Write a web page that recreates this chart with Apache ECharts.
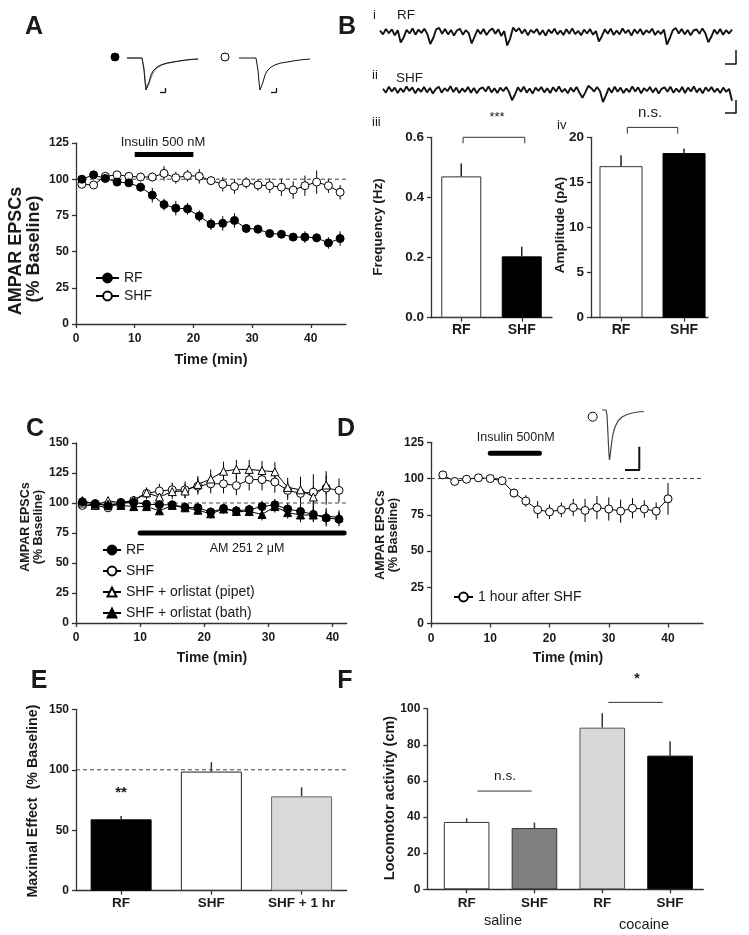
<!DOCTYPE html>
<html><head><meta charset="utf-8">
<script src="https://cdn.jsdelivr.net/npm/echarts@6/dist/echarts.min.js"></script>
<style>html,body{margin:0;padding:0;background:#fff}#c{width:749px;height:935px}</style>
</head><body><div id="c"></div>
<script>
// ---------- Panel A ----------
const aTime = [1,3,5,7,9,11,13,15,17,19,21,23,25,27,29,31,33,35,37,39,41,43,45];
const aRF = [100,103,100.5,98,97.5,94.5,89,82.5,80,79.5,74.5,69,69.5,71.5,66,65.5,62.5,62,60,60,59.5,56,59];
const aRFErr = [2,2,2,2,2,3,5,4,5,4,4,4,5,5,3,3,2,2,2,4,3,4,5];
const aSHF = [96.5,96,102,103,102,101.5,101.5,104,101,102.5,102,99,96.5,95,97.5,96,95.5,94.5,92.5,95.5,98,95.5,91];
const aSHFErr = [2,2,2,2,2,3,3,5,4,4,5,3,5,5,4,4,5,6,6,7,8,5,5];
const aInsulin = [10,20];
const aTicksX = [0,10,20,30,40];
// EPSC example traces (time in sample units, current in arbitrary units)
const trRF1 = [[0,0],[15,0],[16,-2],[17,-12],[18,-24],[19,-32],[20,-34],[21,-30],[22,-24],[24,-17],[26,-13],[30,-9],[35,-6.5],[40,-5],[46,-4],[55,-2.5],[63,-1.5],[71,-1]];
const trRF2 = [[0,0],[15,0],[16,-2],[17,-10],[18,-20],[19,-27],[20,-30],[21,-29],[22,-26],[24,-20],[26,-15],[30,-10],[35,-7],[40,-5.5],[46,-4.2],[55,-2.7],[63,-1.7],[71,-1]];
const trSHF = [[0,0],[17,0],[18,-2],[19,-12],[20,-24],[21,-32],[22,-34],[23,-30],[24,-24],[26,-17],[28,-13],[32,-9],[37,-6.5],[42,-5],[48,-4],[57,-2.5],[65,-1.5],[71,-1]];

// ---------- Panel B ----------
const bCats = ['RF','SHF'];
const bFreq = [0.47,0.204];
const bFreqErr = [0.043,0.032];
const bAmp = [16.8,18.25];
const bAmpErr = [1.2,0.5];
const bFreqTicks = [0,0.2,0.4,0.6];
const sweepRF = [0.5,-0.8,1.0,-0.4,0.9,-1.1,0.6,-3.5,-1.8,0.7,-0.5,1.2,-0.9,0.8,-0.3,1.1,-0.7,-4.0,-2.0,0.9,
 1.4,-0.6,1.0,-0.8,0.7,-1.2,0.5,1.1,-0.9,0.6,-0.4,-3.8,-1.5,0.8,-0.7,1.0,-1.0,0.4,1.2,-0.6,
 0.9,-1.3,0.3,-4.5,-2.2,1.5,0.2,1.3,-0.5,0.9,-1.1,0.7,-0.3,1.0,-0.9,0.6,-1.2,0.8,-0.4,1.1,
 -0.8,0.5,-1.0,0.9,-0.6,1.2,-0.7,0.4,-1.1,0.8,-0.5,1.0,-0.9,0.3,-3.2,-1.4,0.9,-0.6,1.1,-1.0,
 0.5,-0.8,1.2,-0.4,0.7,-1.2,0.9,-0.5,1.0,-0.9,0.6,-0.3,1.1,-1.0,0.4,-0.7,0.8,-4.2,-2.0,0.6,
 1.3,-0.5,1.0,-0.8,0.7,-1.1,0.5,0.9,-0.6,1.2,-0.4,-3.4,-1.6,0.8,-0.7,1.0,-0.9,0.6,-0.5,0.8];
const sweepSHF = [0.4,-0.9,1.1,-0.5,0.8,-1.0,0.6,-0.7,1.2,-0.3,0.9,-1.1,0.5,-0.6,1.0,-0.8,0.7,-1.2,0.3,1.1,
 -0.9,0.6,-0.4,1.3,-0.7,0.8,-1.0,0.5,-0.6,1.0,-0.9,0.7,-1.1,0.4,0.9,-0.5,1.2,-0.8,0.6,-1.0,
 0.8,-0.4,1.0,-0.7,-3.4,-1.5,0.9,-0.6,1.1,-0.9,0.5,-1.2,0.8,-0.3,1.0,-0.8,0.6,-1.0,0.9,-0.5,
 1.2,-0.7,0.4,-1.1,0.8,-0.6,1.0,-0.9,-2.6,-0.8,1.4,0.6,-0.5,1.0,-0.4,-4.0,-1.8,0.7,-0.9,1.1,
 -0.6,0.8,-1.0,0.5,-0.7,1.2,-0.5,0.9,-1.1,0.6,-0.4,1.0,-0.8,0.7,-1.2,0.4,0.9,-0.6,1.1,-0.9,
 0.5,-0.7,1.0,-1.0,0.8,-0.5,1.2,-0.8,0.6,-1.1,0.9,-0.4,1.0,-0.7,0.5,-1.0,0.8,-0.6,0.4,-3.6];

// ---------- Panel C ----------
const cTime = [1,3,5,7,9,11,13,15,17,19,21,23,25,27,29,31,33,35,37,39,41];
const cRF = [101,99.5,97.5,100.5,100.5,99,98.5,98.5,96.5,96,92.5,95.5,93.5,94.5,97,98.5,95,93,90.5,87.5,86.5];
const cRFErr = [3,2,2,2,2,3,3,4,4,4,4,4,4,4,5,5,5,5,6,7,6];
const cSHF = [98,98,96,100,102,108,110,111,111,114,116,116,114.5,119.5,119.5,117.5,110.5,108,109,112.5,110.5];
const cSHFErr = [2,2,3,3,3,5,6,6,7,7,8,8,8,9,9,9,8,14,15,14,10];
const cPipet = [100,98,102,100,102.5,108.5,105,109.5,110,115.5,120,126.5,128,128,127,126,113,111,105,115,null];
const cPipetErr = [2,2,3,2,3,4,5,6,6,7,8,8,8,8,8,8,8,10,9,8,0];
const cBath = [102,99,99,98,97,97,93.5,98,96,94,91,95,93,93,90.5,97,92,90,90,89,88];
const cBathErr = [2,2,2,2,2,2,3,3,3,4,4,4,4,4,5,5,5,6,6,7,6];
const cAM251 = [10,41.8];

// ---------- Panel D ----------
const dTime = [2,4,6,8,10,12,14,16,18,20,22,24,26,28,30,32,34,36,38,40];
const dVal = [102.5,98,99.5,100.5,100,98.5,90,84.5,78.5,77,78.5,80,78,80,79,77.5,79.5,79,77.5,86];
const dErr = [1,1.5,1,1,1,1.5,3,4,6,5,5,6,8,8,8,8,7,6,6,11];
const dInsulin = [10,18.3];
const trD = [[0,0],[4,0],[5,-5],[6,-25],[7,-45],[7.5,-50],[8,-47],[9,-38],[10,-30],[11,-24],[13,-17],[16,-11],[20,-7],[25,-4.5],[30,-3],[36,-2],[42,-1.5]];

// ---------- Panel E ----------
const eCats = ['RF','SHF','SHF + 1 hr'];
const eVal = [59,98.5,78];
const eErr = [2.7,7.8,7.5];

// ---------- Panel F ----------
const fCats = ['RF','SHF','RF','SHF'];
const fVal = [37.3,33.9,89.5,74];
const fErr = [2,3,8,8];
const fSig = [[[0.16,54.4],[0.96,54.4]], [[2.09,103.5],[2.89,103.5]]];

// ---------- styles ----------
const FONT = '"Liberation Sans", Arial, Helvetica, sans-serif';
const INK = '#1a1a1a';
const AX = '#333';
const eColors = [{color:'#000',borderColor:'#000'},{color:'#fff',borderColor:'#222'},{color:'#d9d9d9',borderColor:'#666'}];
const fColors = [{color:'#fff',borderColor:'#333'},{color:'#7f7f7f',borderColor:'#333'},{color:'#d8d8d8',borderColor:'#555'},{color:'#000',borderColor:'#000'}];
const bColors = [{color:'#fff',borderColor:'#333'},{color:'#000',borderColor:'#000'}];

const pairs = (xs, ys) => xs.map((x,i)=>[x,ys[i]]).filter(p=>p[1]!=null);
const triples = (xs, ys, es) => xs.map((x,i)=>[x,ys[i],es[i]]).filter(p=>p[1]!=null);
const idx = ys => ys.map((v,i)=>[i,v]);

const grids = [
  {left:76, top:143, width:270, height:181},
  {left:431, top:137.3, width:121, height:180.4},
  {left:591, top:137.3, width:117, height:180.4},
  {left:76, top:443, width:270.7, height:180},
  {left:431, top:442.3, width:272, height:181.2},
  {left:76, top:709.3, width:270.7, height:181.4},
  {left:427.3, top:708.7, width:276, height:180.6},
  {left:127, top:54, width:71, height:38},
  {left:239, top:54, width:71, height:38},
  {left:380, top:24.5, width:352, height:30},
  {left:383, top:82.5, width:349, height:30},
  {left:602, top:406, width:42, height:56}
];

function axisBase(size, margin){
  return {
    axisLine:{show:true, onZero:false, lineStyle:{color:AX, width:1.3}},
    axisTick:{show:true, length:4, lineStyle:{color:AX, width:1.3}},
    splitLine:{show:false},
    axisLabel:{color:INK, fontFamily:FONT, fontWeight:'bold', fontSize:size, margin:margin}
  };
}
function xVal(gi, min, max, ticks, size, margin, cats){
  const a = axisBase(size, margin);
  a.axisTick.customValues = ticks;
  a.axisLabel.customValues = ticks;
  if (cats) a.axisLabel.formatter = v => cats[Math.round(v)];
  return Object.assign({type:'value', gridIndex:gi, min, max}, a);
}
function yVal(gi, min, max, interval, size, custom, fmt){
  const a = axisBase(size, 7);
  const o = Object.assign({type:'value', gridIndex:gi, min, max}, a);
  if (custom){ a.axisTick.customValues = custom; a.axisLabel.customValues = custom; }
  else o.interval = interval;
  if (fmt) a.axisLabel.formatter = fmt;
  return o;
}
function hidden(gi, min, max){ return {type:'value', gridIndex:gi, min, max, show:false}; }

const xAxis = [
  xVal(0,0,46,aTicksX,12,9),
  xVal(1,-0.5,1.5,[0,1],14,5,bCats),
  xVal(2,-0.476,1.38,[0,1],14,5,bCats),
  xVal(3,0,42.2,aTicksX,12,9),
  xVal(4,0,45.9,aTicksX,12,9),
  xVal(5,-0.5,2.5,[0,1,2],13.5,6,eCats),
  xVal(6,-0.58,3.49,[0,1,2,3],13.5,7,fCats),
  hidden(7,0,71), hidden(8,0,71), hidden(9,0,119), hidden(10,0,119), hidden(11,0,42)
];
const yAxis = [
  yVal(0,0,125,25,12),
  yVal(1,0,0.6,0.2,13.5,bFreqTicks,v=>v.toFixed(1)),
  yVal(2,0,20,5,13.5),
  yVal(3,0,150,25,12),
  yVal(4,0,125,25,12),
  yVal(5,0,150,50,12),
  yVal(6,0,100,20,12),
  hidden(7,-34,4), hidden(8,-34,4), hidden(9,-7.5,2.5), hidden(10,-7.5,2.5), hidden(11,-52,4)
];

function errSeries(gi, data, both, color, width){
  return {type:'custom', xAxisIndex:gi, yAxisIndex:gi, data, z:2, silent:true, clip:false,
    encode:{x:0, y:1},
    renderItem(params, api){
      const x = api.value(0), y = api.value(1), e = api.value(2);
      const p1 = api.coord([x, both ? y-e : y]), p2 = api.coord([x, y+e]);
      return {type:'line', shape:{x1:p1[0],y1:p1[1],x2:p2[0],y2:p2[1]}, style:{stroke:color, lineWidth:width}};
    }};
}
function dataLine(gi, name, data, symbol, filled, size){
  return {type:'line', name, xAxisIndex:gi, yAxisIndex:gi, data, symbol, symbolSize:size, showAllSymbol:true,
    z:4, silent:true, animation:false,
    lineStyle:{color:'#000', width:1},
    itemStyle:{color: filled ? '#000' : '#fff', borderColor:'#000', borderWidth:1}};
}
function plainLine(gi, data, width, dashed, cap, color, z){
  return {type:'line', xAxisIndex:gi, yAxisIndex:gi, data, symbol:'none', silent:true, clip:false, z: z || 3,
    lineStyle:{color: color || '#000', width, type: dashed ? [4,3] : 'solid', cap: cap || 'butt'}};
}
function bars(gi, vals, colors, width){
  return {type:'bar', xAxisIndex:gi, yAxisIndex:gi, barWidth:width, silent:true, z:3,
    data: vals.map((v,i)=>({value:[i,v], itemStyle:{color:colors[i].color, borderColor:colors[i].borderColor, borderWidth:1}}))};
}
function traceLine(gi, data, color, w){
  return {type:'line', xAxisIndex:gi, yAxisIndex:gi, data, symbol:'none', silent:true, z:3,
    lineStyle:{color, width:w||1}};
}

const series = [
  // A
  plainLine(0, [[0,100],[46,100]], 1, true, null, '#444'),
  plainLine(0, aInsulin.map(x=>[x,117]), 5, false),
  errSeries(0, triples(aTime,aSHF,aSHFErr), true, '#000', 1),
  errSeries(0, triples(aTime,aRF,aRFErr), true, '#000', 1),
  dataLine(0,'SHF',pairs(aTime,aSHF),'circle',false,8),
  dataLine(0,'RF',pairs(aTime,aRF),'circle',true,8),
  traceLine(7, trRF2, '#888', 1),
  traceLine(7, trRF1, '#111', 1),
  traceLine(8, trSHF, '#111', 1),
  // B
  bars(1, bFreq, bColors, 40),
  errSeries(1, triples([0,1],bFreq,bFreqErr), false, '#222', 1.5),
  plainLine(1, [[0.03,0.58],[0.03,0.6],[1.05,0.6],[1.05,0.58]], 1, false, null, '#333'),
  bars(2, bAmp, bColors, 43),
  errSeries(2, triples([0,1],bAmp,bAmpErr), false, '#222', 1.5),
  plainLine(2, [[0.1,20.4],[0.1,21.1],[0.9,21.1],[0.9,20.4]], 1, false, null, '#333'),
  traceLine(9, idx(sweepRF), '#111', 1.9),
  traceLine(10, idx(sweepSHF), '#111', 1.9),
  // C
  plainLine(3, [[0,100],[42.2,100]], 1, true, null, '#444'),
  plainLine(3, cAM251.map(x=>[x,75]), 5, false, 'round'),
  errSeries(3, triples(cTime,cSHF,cSHFErr), true, '#000', 1),
  errSeries(3, triples(cTime,cPipet,cPipetErr), true, '#000', 1),
  errSeries(3, triples(cTime,cRF,cRFErr), true, '#000', 1),
  errSeries(3, triples(cTime,cBath,cBathErr), true, '#000', 1),
  dataLine(3,'SHF',pairs(cTime,cSHF),'circle',false,8),
  dataLine(3,'SHF + orlistat (pipet)',pairs(cTime,cPipet),'triangle',false,8),
  dataLine(3,'RF',pairs(cTime,cRF),'circle',true,8),
  dataLine(3,'SHF + orlistat (bath)',pairs(cTime,cBath),'triangle',true,8),
  // D
  plainLine(4, [[0,100],[45.9,100]], 1, true, null, '#444'),
  plainLine(4, dInsulin.map(x=>[x,117.4]), 5, false, 'round'),
  errSeries(4, triples(dTime,dVal,dErr), true, '#000', 1),
  dataLine(4,'1 hour after SHF',pairs(dTime,dVal),'circle',false,8),
  traceLine(11, trD, '#444', 1.2),
  // E
  plainLine(5, [[-0.5,100],[2.5,100]], 1, true, null, '#444', 4),
  bars(5, eVal, eColors, 61),
  errSeries(5, triples([0,1,2],eVal,eErr), false, '#333', 1.5),
  // F
  bars(6, fVal, fColors, 45.6),
  errSeries(6, triples([0,1,2,3],fVal,fErr), false, '#333', 1.5),
  plainLine(6, fSig[0], 1, false, null, '#333'),
  plainLine(6, fSig[1], 1, false, null, '#333')
];

const legTxt = {fontFamily:FONT, fontSize:14, color:INK};
const legend = [
  {left:90, top:266, orient:'vertical', itemWidth:23, itemHeight:11, itemGap:4, selectedMode:false, data:['RF','SHF'], textStyle:legTxt},
  {left:97, top:538, orient:'vertical', itemWidth:18, itemHeight:11, itemGap:7, selectedMode:false, data:['RF','SHF','SHF + orlistat (pipet)','SHF + orlistat (bath)'], textStyle:legTxt},
  {left:448, top:585, orient:'vertical', itemWidth:19, itemHeight:11, itemGap:4, selectedMode:false, data:['1 hour after SHF'], textStyle:legTxt}
];

function txt(x, y, text, size, o){
  o = o || {};
  const al = o.align || 'center', va = o.va || 'middle';
  return {type:'text', x, y, rotation: o.rot || 0, silent:true, z:10,
    style:{text, font:(o.bold?'bold ':'') + size + 'px ' + FONT, fill: o.fill || INK,
      textAlign:al, align:al, textVerticalAlign:va, verticalAlign:va}};
}
function seg(x1,y1,x2,y2,w,c){
  return {type:'line', silent:true, z:10, shape:{x1,y1,x2,y2}, style:{stroke:c||'#111', lineWidth:w||1.3}};
}
function dot(cx,cy,r,filled){
  return {type:'circle', silent:true, z:10, shape:{cx,cy,r}, style:{fill: filled?'#000':'#fff', stroke:'#000', lineWidth:1}};
}
const R = Math.PI/2;
const graphic = [
  // panel letters
  txt(34,27,'A',25,{bold:true}), txt(347,27,'B',25,{bold:true}),
  txt(35,429,'C',25,{bold:true}), txt(346,429,'D',25,{bold:true}),
  txt(39,681,'E',25,{bold:true}), txt(345,681,'F',25,{bold:true}),
  // A
  dot(115,57,4,true), dot(225,57,4,false),
  seg(165.5,88,165.5,92.5,1.3), seg(160,92.5,165.5,92.5,1.3),
  seg(276.5,88,276.5,92.5,1.3), seg(271,92.5,276.5,92.5,1.3),
  txt(163,142,'Insulin 500 nM',13),
  txt(16,251,'AMPAR EPSCs',18,{bold:true,rot:R}),
  txt(34,249,'(% Baseline)',18,{bold:true,rot:R}),
  txt(211,360,'Time (min)',14.5,{bold:true}),
  // B
  txt(373,15,'i',13,{align:'left'}), txt(397,15,'RF',13.5,{align:'left'}),
  txt(372,75,'ii',13,{align:'left'}), txt(396,78,'SHF',13.5,{align:'left'}),
  seg(736,50,736,64,1.5), seg(725,64,736.5,64,1.5),
  seg(736,100,736,113,1.5), seg(725,113,736.5,113,1.5),
  txt(372,122,'iii',13,{align:'left'}), txt(557,125,'iv',13,{align:'left'}),
  txt(497,117,'***',13), txt(650,113,'n.s.',15),
  txt(378,227,'Frequency (Hz)',13.5,{bold:true,rot:R}),
  txt(560,225,'Amplitude (pA)',13.5,{bold:true,rot:R}),
  // C
  txt(26,527,'AMPAR EPSCs',12.5,{bold:true,rot:R}),
  txt(39,527,'(% Baseline)',12.5,{bold:true,rot:R}),
  txt(247,549,'AM 251 2 \u03bcM',12.5),
  txt(212,658,'Time (min)',14,{bold:true}),
  // D
  dot(592.7,416.7,4.5,false),
  seg(639.3,446.7,639.3,470,2), seg(625,470,640,470,2),
  txt(515.7,438,'Insulin 500nM',12.5),
  txt(381,535,'AMPAR EPSCs',12.5,{bold:true,rot:R}),
  txt(394,535,'(% Baseline)',12.5,{bold:true,rot:R}),
  txt(568,658,'Time (min)',14,{bold:true}),
  // E
  txt(121,793,'**',15,{bold:true}),
  txt(33,801,'Maximal Effect  (% Baseline)',14.3,{bold:true,rot:R}),
  // F
  txt(505,776,'n.s.',13.5), txt(637,679,'*',14,{bold:true}),
  txt(390,798,'Locomotor activity (cm)',14.5,{bold:true,rot:R}),
  txt(503,921,'saline',14.5), txt(644,925,'cocaine',14.5)
];

const chart = echarts.init(document.getElementById('c'), null, {renderer:'canvas'});
chart.setOption({backgroundColor:'#fff', animation:false, grid:grids, xAxis, yAxis, series, legend, graphic});
</script></body></html>
